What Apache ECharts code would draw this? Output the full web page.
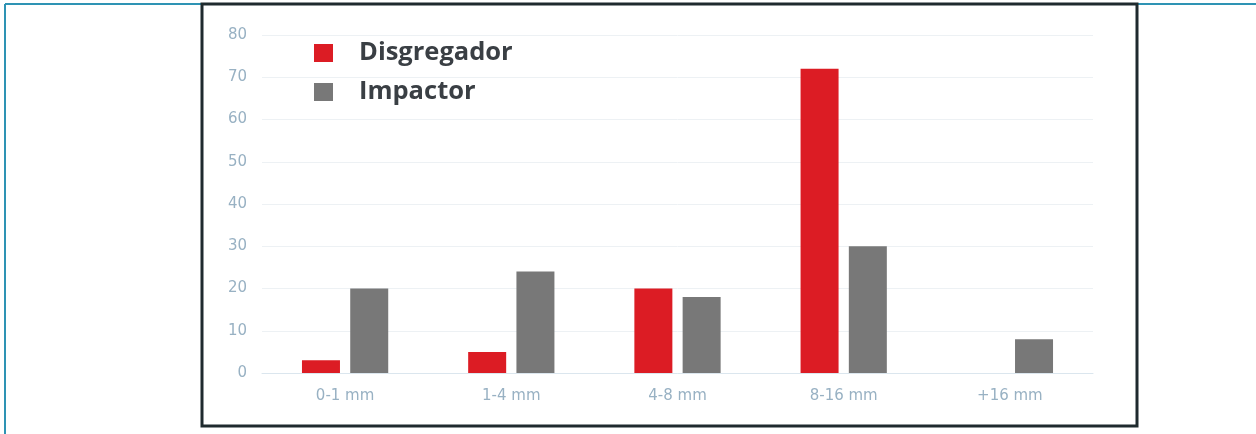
<!DOCTYPE html>
<html><head><meta charset="utf-8">
<script src="https://cdn.jsdelivr.net/npm/echarts@6/dist/echarts.min.js"></script>
<style>html,body{margin:0;padding:0;background:#fff}#c{width:1256px;height:434px}</style>
</head><body><div id="c"></div>
<script>
const categories = ['0-1 mm', '1-4 mm', '4-8 mm', '8-16 mm', '+16 mm'];
const disgregador = [3, 5, 20, 72, null];
const impactor = [20, 24, 18, 30, 8];
const yTicks = [0, 10, 20, 30, 40, 50, 60, 70, 80];

const chart = echarts.init(document.getElementById('c'));
chart.setOption({
  animation: false,
  graphic: [
    { type: 'line', shape: { x1: 5, y1: 4, x2: 1256, y2: 4 }, style: { stroke: '#2e93b4', lineWidth: 2 } },
    { type: 'line', shape: { x1: 5, y1: 4, x2: 5, y2: 434 }, style: { stroke: '#2e93b4', lineWidth: 2 } },
    { type: 'rect', shape: { x: 202, y: 4, width: 935, height: 422 }, style: { fill: 'none', stroke: '#1f2a2e', lineWidth: 3 } }
  ],
  legend: {
    orient: 'vertical', left: 309, top: 35, itemWidth: 19, itemHeight: 18, itemGap: 13,
    icon: 'rect',
    textStyle: { fontFamily: 'Open Sans', fontWeight: 'bold', fontSize: 25.5, color: '#3a3f44', padding: [0, 0, 0, 21] },
    data: ['Disgregador', 'Impactor']
  },
  grid: { left: 262, right: 163, top: 35, bottom: 61 },
  xAxis: {
    type: 'category', data: categories,
    axisTick: { show: false },
    axisLine: { lineStyle: { color: '#dbe6ee' } },
    axisLabel: { color: '#98b1c3', fontSize: 15, fontFamily: 'DejaVu Sans', margin: 16 }
  },
  yAxis: {
    type: 'value', min: 0, max: 80, interval: 10,
    axisLabel: { color: '#98b1c3', fontSize: 15, fontFamily: 'DejaVu Sans', margin: 15,
      formatter: v => yTicks.includes(v) ? String(v) : '' },
    splitLine: { lineStyle: { color: '#edf1f4' } },
    axisLine: { show: false }, axisTick: { show: false }
  },
  series: [
    { name: 'Disgregador', type: 'bar', data: disgregador, barWidth: 38, barGap: '27%', itemStyle: { color: '#dc1c24' } },
    { name: 'Impactor', type: 'bar', data: impactor, barWidth: 38, itemStyle: { color: '#787878' } }
  ]
});
</script></body></html>
